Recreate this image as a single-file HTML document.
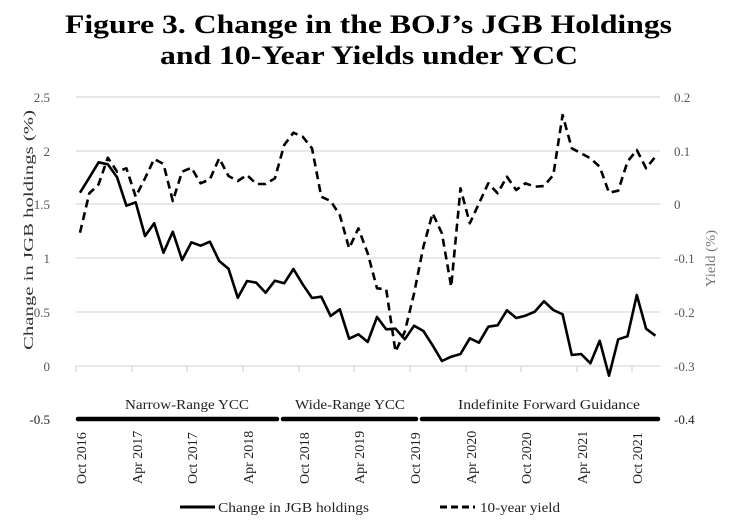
<!DOCTYPE html>
<html><head><meta charset="utf-8"><style>
body{margin:0;background:#fff;width:742px;height:520px;overflow:hidden}
svg{display:block}
text{font-family:"Liberation Serif",serif}
</style></head><body>
<svg width="742" height="520" viewBox="0 0 742 520" xmlns="http://www.w3.org/2000/svg">
<text x="65" y="33" font-size="26" font-weight="bold" fill="#000" textLength="607" lengthAdjust="spacingAndGlyphs">Figure 3.  Change in the BOJ’s JGB Holdings</text>
<text x="160" y="64" font-size="26" font-weight="bold" fill="#000" textLength="418" lengthAdjust="spacingAndGlyphs">and 10-Year Yields under YCC</text>
<g stroke="#d9d9d9" stroke-width="1.3">
<line x1="76" y1="97" x2="660" y2="97"/><line x1="76" y1="151" x2="660" y2="151"/><line x1="76" y1="204" x2="660" y2="204"/><line x1="76" y1="258" x2="660" y2="258"/><line x1="76" y1="312" x2="660" y2="312"/><line x1="76" y1="366" x2="660" y2="366"/>
<line x1="76" y1="366" x2="76" y2="372"/><line x1="132" y1="366" x2="132" y2="372"/><line x1="187" y1="366" x2="187" y2="372"/><line x1="243" y1="366" x2="243" y2="372"/><line x1="299" y1="366" x2="299" y2="372"/><line x1="354" y1="366" x2="354" y2="372"/><line x1="410" y1="366" x2="410" y2="372"/><line x1="466" y1="366" x2="466" y2="372"/><line x1="521" y1="366" x2="521" y2="372"/><line x1="577" y1="366" x2="577" y2="372"/><line x1="632" y1="366" x2="632" y2="372"/>
</g>
<g font-size="13" fill="#555" text-anchor="end">
<text x="50" y="102">2.5</text><text x="50" y="156">2</text><text x="50" y="209">1.5</text><text x="50" y="263">1</text><text x="50" y="317">0.5</text><text x="50" y="371">0</text><text x="50" y="424" fill="#222">-0.5</text>
</g>
<g font-size="13" fill="#555">
<text x="674" y="102">0.2</text><text x="674" y="156">0.1</text><text x="674" y="209">0</text><text x="674" y="263">-0.1</text><text x="674" y="317">-0.2</text><text x="674" y="371">-0.3</text><text x="674" y="424" fill="#222">-0.4</text>
</g>
<text transform="translate(33,350) rotate(-90)" font-size="14" fill="#333" textLength="240" lengthAdjust="spacingAndGlyphs">Change in JGB holdings (%)</text>
<text transform="translate(715,287) rotate(-90)" font-size="14" fill="#777" textLength="57" lengthAdjust="spacingAndGlyphs">Yield (%)</text>
<g fill="none" stroke="#000" stroke-width="2.6" stroke-linejoin="round">
<polyline points="80,192.7 89.3,177.7 98.6,162.3 107.8,164.3 117.1,177.3 126.4,205.7 135.7,202.3 145,236 154.2,223.3 163.5,252.7 172.8,231.7 182.1,260 191.4,242.3 200.6,245.7 209.9,241.7 219.2,261 228.5,268.7 237.8,297.7 247,281 256.3,282.7 265.6,292.7 274.9,280.7 284.2,283.3 293.4,269 302.7,284.3 312,298 321.3,296.7 330.6,316 339.8,309.3 349.1,338.7 358.4,334.3 367.7,342 377,317 386.2,329.3 395.5,328.7 404.8,339.3 414.1,325.7 423.4,331 432.6,345.3 441.9,361 451.2,356.7 460.5,354 469.8,338.3 479,342.7 488.3,326.7 497.6,325.3 506.9,310.3 516.2,318 525.4,315.7 534.7,311.7 544,301.3 553.3,310 562.6,314.3 571.8,355 581.1,354 590.4,363.3 599.7,340.7 609,375.7 618.2,339.3 627.5,336.3 636.8,295 646.1,328.7 655.4,335.7"/>
<polyline stroke-dasharray="8,5" points="80,232.7 89.3,193.3 98.6,184.3 107.8,157.7 117.1,171.7 126.4,168.3 135.7,196.7 145,178.3 154.2,159 163.5,164 172.8,201 182.1,171.7 191.4,167.7 200.6,183.3 209.9,179.3 219.2,158.3 228.5,176 237.8,181 247,175 256.3,184 265.6,184 274.9,178.3 284.2,145 293.4,132.7 302.7,136.7 312,148.3 321.3,196.7 330.6,201 339.8,215 349.1,248.3 358.4,228.3 367.7,253.3 377,288.3 386.2,289.3 395.5,351.7 404.8,331.7 414.1,293.3 423.4,246.7 432.6,213.3 441.9,233.3 451.2,286.7 460.5,188.3 469.8,223.3 479,203.3 488.3,183.3 497.6,193.3 506.9,176.7 516.2,190 525.4,183.3 534.7,186.7 544,186 553.3,175 562.6,115 571.8,148.3 581.1,153.3 590.4,158.3 599.7,166.7 609,192.7 618.2,190.7 627.5,161.7 636.8,150 646.1,168.3 655.4,156.7"/>
</g>
<g stroke="#000" stroke-width="4.5" stroke-linecap="round">
<line x1="78" y1="419" x2="277" y2="419"/><line x1="283" y1="419" x2="416" y2="419"/><line x1="422" y1="419" x2="658" y2="419"/>
</g>
<g font-size="14" fill="#222">
<text x="125" y="409" textLength="124" lengthAdjust="spacingAndGlyphs">Narrow-Range YCC</text>
<text x="295" y="409" textLength="110" lengthAdjust="spacingAndGlyphs">Wide-Range YCC</text>
<text x="458" y="409" textLength="182" lengthAdjust="spacingAndGlyphs">Indefinite Forward Guidance</text>
</g>
<g font-size="14" fill="#222">
<text transform="translate(86,484) rotate(-90)">Oct 2016</text>
<text transform="translate(142,484) rotate(-90)">Apr 2017</text>
<text transform="translate(197,484) rotate(-90)">Oct 2017</text>
<text transform="translate(253,484) rotate(-90)">Apr 2018</text>
<text transform="translate(309,484) rotate(-90)">Oct 2018</text>
<text transform="translate(364,484) rotate(-90)">Apr 2019</text>
<text transform="translate(420,484) rotate(-90)">Oct 2019</text>
<text transform="translate(476,484) rotate(-90)">Apr 2020</text>
<text transform="translate(531,484) rotate(-90)">Oct 2020</text>
<text transform="translate(587,484) rotate(-90)">Apr 2021</text>
<text transform="translate(642,484) rotate(-90)">Oct 2021</text>
</g>
<line x1="180" y1="507" x2="215" y2="507" stroke="#000" stroke-width="3"/>
<text x="218" y="512" font-size="14" fill="#222" textLength="151" lengthAdjust="spacingAndGlyphs">Change in JGB holdings</text>
<line x1="440" y1="507" x2="475" y2="507" stroke="#000" stroke-width="3" stroke-dasharray="7,4"/>
<text x="480" y="512" font-size="14" fill="#222" textLength="80" lengthAdjust="spacingAndGlyphs">10-year yield</text>
</svg>
</body></html>
